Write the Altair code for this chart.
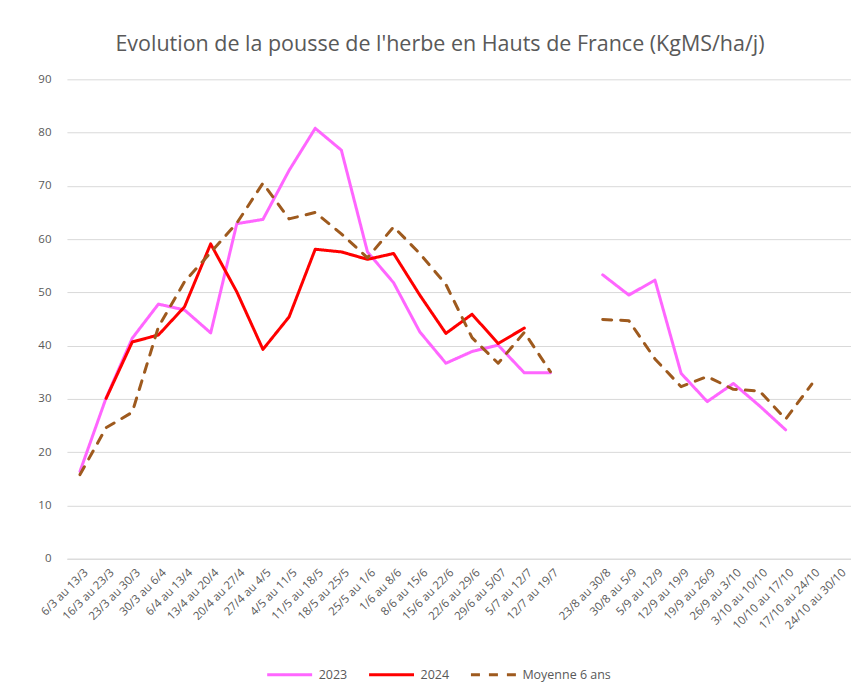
import altair as alt
import pandas as pd

categories = ["6/3 au 13/3", "16/3 au 23/3", "23/3 au 30/3", "30/3 au 6/4", "6/4 au 13/4",
              "13/4 au 20/4", "20/4 au 27/4", "27/4 au 4/5", "4/5 au 11/5", "11/5 au 18/5",
              "18/5 au 25/5", "25/5 au 1/6", "1/6 au 8/6", "8/6 au 15/6", "15/6 au 22/6",
              "22/6 au 29/6", "29/6 au 5/07", "5/7 au 12/7", "12/7 au 19/7", " ",
              "23/8 au 30/8", "30/8 au 5/9", "5/9 au 12/9", "12/9 au 19/9", "19/9 au 26/9",
              "26/9 au 3/10", "3/10 au 10/10", "10/10 au 17/10", "17/10 au 24/10", "24/10 au 30/10"]

s2023 = [16.4, 30.2, 41.4, 47.8, 46.7, 42.4, 62.9, 63.7, 72.9, 80.8,
         76.7, 57.6, 51.8, 42.6, 36.7, 38.9, 40.1, 34.9, 34.9, None,
         53.3, 49.5, 52.3, 34.8, 29.5, 32.9, 28.7, 24.2, None, None]
s2024 = [None, 30.1, 40.7, 42.0, 47.3, 59.1, 50.1, 39.3, 45.4, 58.1,
         57.6, 56.2, 57.3, 49.5, 42.3, 45.9, 40.4, 43.3, None, None,
         None, None, None, None, None, None, None, None, None, None]
moyenne = [15.8, 24.6, 27.5, 43.5, 52.0, 57.5, 63.0, 70.5, 63.8, 65.0,
           61.0, 56.5, 62.3, 57.3, 51.5, 41.5, 36.7, 42.5, 35.1, None,
           44.9, 44.7, 37.5, 32.3, 34.2, 31.8, 31.5, 26.2, 32.8, None]

series_names = ["2023", "2024", "Moyenne 6 ans"]
series_values = [s2023, s2024, moyenne]
colors = ["#FF66FF", "#FF0000", "#9E5A1E"]
dashes = [[1, 0], [1, 0], [9, 9]]

rows = []
for name, vals in zip(series_names, series_values):
    for i, v in enumerate(vals):
        if v is not None:
            rows.append({"cat": categories[i], "value": v, "series": name,
                         "seg": name + ("_a" if i < 19 else "_b")})
df = pd.DataFrame(rows)

font = "Open Sans"
grey = "#595959"

legend_opts = dict(title=None, orient="none", legendX=199, legendY=572,
                   direction="horizontal", symbolType="stroke",
                   symbolSize=2025, symbolStrokeWidth=3, labelFontSize=12.5,
                   labelFont=font, labelColor=grey, columnPadding=15, labelOffset=5)

chart = alt.Chart(df).mark_line(strokeWidth=3, strokeCap="round", strokeJoin="round").encode(
    x=alt.X("cat:N", sort=categories,
            scale=alt.Scale(domain=categories, type="point", padding=0.5),
            axis=alt.Axis(title=None, labelAngle=315, labelAlign="right", labelBaseline="middle",
                          ticks=False, domainColor="#d9d9d9", grid=False, labelColor=grey,
                          labelFontSize=11.5, labelFont=font, labelPadding=12, labelOffset=6,
                          labelOverlap=False)),
    y=alt.Y("value:Q", scale=alt.Scale(domain=[0, 90], nice=False),
            axis=alt.Axis(title=None, values=list(range(0, 100, 10)), ticks=False, domain=False,
                          gridColor="#d9d9d9", labelColor=grey, labelFontSize=11.5, labelFont=font,
                          labelPadding=16)),
    color=alt.Color("series:N", scale=alt.Scale(domain=series_names, range=colors),
                    legend=alt.Legend(**legend_opts)),
    strokeDash=alt.StrokeDash("series:N", scale=alt.Scale(domain=series_names, range=dashes),
                              legend=alt.Legend(**legend_opts)),
    detail="seg:N",
).properties(
    width=785, height=480,
    title=alt.TitleParams("Evolution de la pousse de l'herbe en Hauts de France (KgMS/ha/j)",
                          fontSize=21.5, font=font, fontWeight="normal", color=grey,
                          anchor="middle", offset=18, dx=-19),
    autosize=alt.AutoSizeParams(type="none"),
    padding={"left": 59, "top": 71, "right": 0, "bottom": 124},
).configure_view(stroke=None)

chart.save("out.html", embed_options={"renderer": "svg", "actions": False})
